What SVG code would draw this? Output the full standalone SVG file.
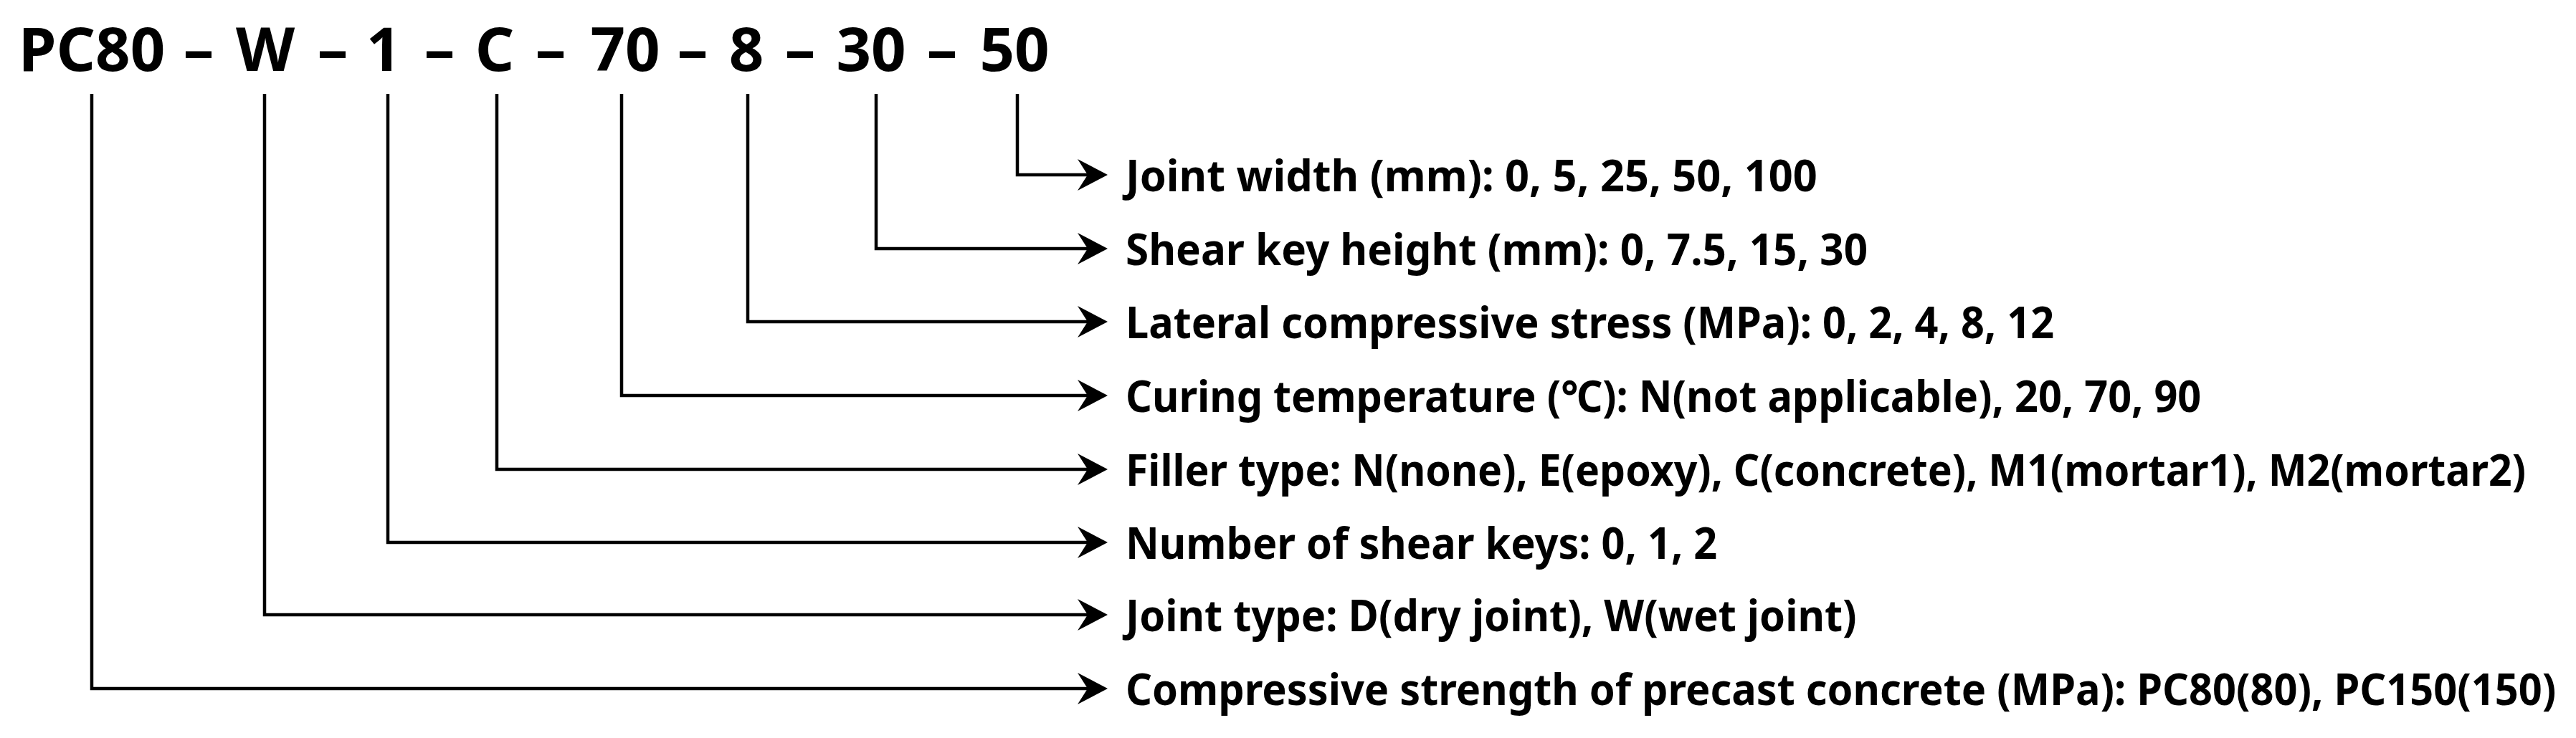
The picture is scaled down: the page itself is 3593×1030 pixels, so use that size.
<svg xmlns="http://www.w3.org/2000/svg" width="3593" height="1030" viewBox="0 0 3593 1030">
<style>
.t{font-family:"Noto Sans","Open Sans","Noto Sans CJK KR",sans-serif;font-weight:bold;fill:#000}
.title{font-size:85px;text-anchor:middle}
.lbl{font-size:61px}
.c{fill:none;stroke:#000;stroke-width:4.5;stroke-linejoin:miter}
</style>
<defs>
<marker id="ah" markerUnits="userSpaceOnUse" markerWidth="50" markerHeight="50" viewBox="0 -25 45 50" refX="32" refY="0" orient="auto">
<path d="M0,-22 L42,0 L0,22 L14,0 Z" fill="#000"/>
</marker>
</defs>
<rect width="3593" height="1030" fill="#fff"/>
<g id="code">
<text class="t title" y="99"><tspan x="128">PC80</tspan><tspan x="277">–</tspan><tspan x="370">W</tspan><tspan x="464">–</tspan><tspan x="535">1</tspan><tspan x="613">–</tspan><tspan x="690">C</tspan><tspan x="768">–</tspan><tspan x="872">70</tspan><tspan x="966">–</tspan><tspan x="1041">8</tspan><tspan x="1116">–</tspan><tspan x="1215">30</tspan><tspan x="1314">–</tspan><tspan x="1415">50</tspan></text>
</g>
<g id="connectors">
<path class="c" d="M1419,131 V244 H1535" marker-end="url(#ah)"/>
<path class="c" d="M1222,131 V347 H1535" marker-end="url(#ah)"/>
<path class="c" d="M1043,131 V449 H1535" marker-end="url(#ah)"/>
<path class="c" d="M867,131 V552 H1535" marker-end="url(#ah)"/>
<path class="c" d="M693,131 V655 H1535" marker-end="url(#ah)"/>
<path class="c" d="M541,131 V757 H1535" marker-end="url(#ah)"/>
<path class="c" d="M369,131 V858 H1535" marker-end="url(#ah)"/>
<path class="c" d="M128,131 V961 H1535" marker-end="url(#ah)"/>
</g>
<g id="joint-width"><text class="t lbl" transform="translate(1570,267) scale(0.9,1)" x="0" y="0" textLength="1072" lengthAdjust="spacingAndGlyphs">Joint width (mm): 0, 5, 25, 50, 100</text></g>
<g id="shear-key-height"><text class="t lbl" transform="translate(1570,370) scale(0.9,1)" x="0" y="0" textLength="1150" lengthAdjust="spacingAndGlyphs">Shear key height (mm): 0, 7.5, 15, 30</text></g>
<g id="lateral-stress"><text class="t lbl" transform="translate(1570,472) scale(0.9,1)" x="0" y="0" textLength="1439" lengthAdjust="spacingAndGlyphs">Lateral compressive stress (MPa): 0, 2, 4, 8, 12</text></g>
<g id="curing-temperature"><text class="t lbl" transform="translate(1570,575) scale(0.9,1)" x="0" y="0" textLength="1667" lengthAdjust="spacingAndGlyphs">Curing temperature (℃): N(not applicable), 20, 70, 90</text></g>
<g id="filler-type"><text class="t lbl" transform="translate(1570,678) scale(0.9,1)" x="0" y="0" textLength="2170" lengthAdjust="spacingAndGlyphs">Filler type: N(none), E(epoxy), C(concrete), M1(mortar1), M2(mortar2)</text></g>
<g id="shear-keys"><text class="t lbl" transform="translate(1570,780) scale(0.9,1)" x="0" y="0" textLength="917" lengthAdjust="spacingAndGlyphs">Number of shear keys: 0, 1, 2</text></g>
<g id="joint-type"><text class="t lbl" transform="translate(1570,881) scale(0.9,1)" x="0" y="0" textLength="1133" lengthAdjust="spacingAndGlyphs">Joint type: D(dry joint), W(wet joint)</text></g>
<g id="compressive-strength"><text class="t lbl" transform="translate(1570,984) scale(0.9,1)" x="0" y="0" textLength="2217" lengthAdjust="spacingAndGlyphs">Compressive strength of precast concrete (MPa): PC80(80), PC150(150)</text></g>
</svg>
